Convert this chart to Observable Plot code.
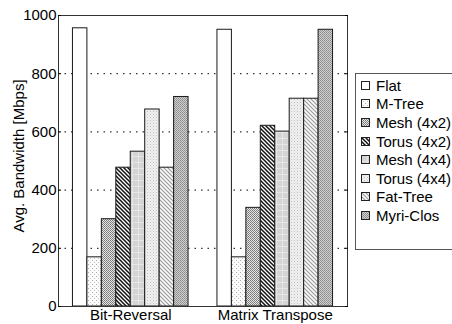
<!DOCTYPE html>
<html>
<head>
<meta charset="utf-8">
<script src="https://cdn.jsdelivr.net/npm/d3@7"></script>
<script src="https://cdn.jsdelivr.net/npm/@observablehq/plot@0.6"></script>
<style>
  html, body { margin: 0; padding: 0; background: #fff; }
  #wrap { position: relative; width: 452px; height: 324px; overflow: hidden; font-family: "Liberation Sans", Arial, sans-serif; }
  #legend { position: absolute; left: 355px; top: 73px; width: 100px; height: 177px; border: 1px solid #555; background: #fff; box-sizing: border-box; padding-top: 2px; }
  .row { display: flex; align-items: center; height: 18.6px; font-size: 15px; color: #000; white-space: nowrap; }
  .row svg { margin-left: 5px; margin-right: 6px; flex: none; }
</style>
</head>
<body>
<svg width="0" height="0" style="position:absolute">
  <defs>
    <pattern id="p0" patternUnits="userSpaceOnUse" width="4" height="4"><rect width="4" height="4" fill="#fff"/></pattern>
    <pattern id="p1" patternUnits="userSpaceOnUse" width="4" height="4"><rect width="4" height="4" fill="#fbfbfb"/><rect x="0" y="0" width="1" height="1" fill="#aaa"/><rect x="2" y="2" width="1" height="1" fill="#c4c4c4"/></pattern>
    <pattern id="p2" patternUnits="userSpaceOnUse" width="2" height="2"><rect width="2" height="2" fill="#e4e4e4"/><rect x="0" y="0" width="1" height="1" fill="#777"/><rect x="1" y="1" width="1" height="1" fill="#888"/></pattern>
    <pattern id="p3" patternUnits="userSpaceOnUse" width="4" height="4"><rect width="4" height="4" fill="#fff"/><path d="M-1,-1L5,5M-1,3L1,5M3,-1L5,1" stroke="#111" stroke-width="1.5"/></pattern>
    <pattern id="p4" patternUnits="userSpaceOnUse" width="6" height="6"><rect width="6" height="6" fill="#d4d4d4"/><path d="M0,0.5H6M0.5,0V6" stroke="#e6e6e6" stroke-width="1"/></pattern>
    <pattern id="p5" patternUnits="userSpaceOnUse" width="3" height="3"><rect width="3" height="3" fill="#f2f2f2"/><rect x="0" y="0" width="1" height="1" fill="#bbb"/><rect x="1.5" y="1.5" width="1" height="1" fill="#d0d0d0"/></pattern>
    <pattern id="p6" patternUnits="userSpaceOnUse" width="4" height="4"><rect width="4" height="4" fill="#fafafa"/><path d="M-1,-1L5,5M-1,3L1,5M3,-1L5,1" stroke="#999" stroke-width="1.1"/></pattern>
    <pattern id="p7" patternUnits="userSpaceOnUse" width="2" height="2"><rect width="2" height="2" fill="#cfcfcf"/><rect x="0" y="0" width="1" height="1" fill="#8c8c8c"/><rect x="1" y="1" width="1" height="1" fill="#999"/></pattern>
  </defs>
</svg>
<div id="wrap">
  <div id="chart"></div>
  <div id="legend"></div>
</div>
<script>
const groups = ["Bit-Reversal", "Matrix Transpose"];
const series = ["Flat", "M-Tree", "Mesh (4x2)", "Torus (4x2)", "Mesh (4x4)", "Torus (4x4)", "Fat-Tree", "Myri-Clos"];
const bitReversal = [956, 169, 300, 477, 532, 677, 477, 720];
const matrixTranspose = [951, 169, 339, 621, 601, 714, 714, 951];
const yTicks = [0, 200, 400, 600, 800, 1000];
const yLabel = "Avg. Bandwidth [Mbps]";

// each group takes one slot per series plus one empty slot on each side
const slotsPerGroup = series.length + 2;
const valuesByGroup = [bitReversal, matrixTranspose];
const rows = [];
groups.forEach((g, gi) => series.forEach((s, si) => rows.push({
  group: g, series: s, si, value: valuesByGroup[gi][si],
  slot: gi * slotsPerGroup + 1 + si
})));
const groupCenters = groups.map((g, gi) => gi * slotsPerGroup + slotsPerGroup / 2);

const chart = Plot.plot({
  width: 452, height: 324,
  marginLeft: 58, marginRight: 105, marginTop: 15, marginBottom: 18,
  style: {fontFamily: "'Liberation Sans', Arial, sans-serif", fontSize: "15px", background: "transparent", color: "#000"},
  x: {domain: [0, groups.length * slotsPerGroup]},
  y: {domain: [0, 1000]},
  marks: [
    Plot.gridY(yTicks.filter(d => d > 0 && d < 1000), {stroke: "#000", strokeOpacity: 1, strokeDasharray: "1.5,5", strokeWidth: 1}),
    Plot.rectY(rows, {
      x1: "slot", x2: d => d.slot + 1, y1: 0, y2: "value",
      fill: d => `url(#p${d.si})`, stroke: "#1a1a1a", strokeWidth: 1
    }),
    Plot.frame({stroke: "#333"}),
    Plot.axisY({anchor: "left", ticks: yTicks, tickSize: 0, tickPadding: 2, tickFormat: d => String(d), label: null, fontSize: 15}),
    Plot.axisY({anchor: "left", ticks: yTicks, tickSize: -3, tickFormat: () => "", label: null}),
    Plot.axisY({anchor: "right", ticks: yTicks, tickSize: -3, tickFormat: () => "", label: null}),
    Plot.axisX({ticks: groupCenters, tickSize: 0, tickPadding: 3, tickFormat: d => groups[groupCenters.indexOf(d)], label: null, fontSize: 15}),
    Plot.text([yLabel], {frameAnchor: "left", textAnchor: "middle", rotate: -90, dx: -39, dy: -5, fontSize: 15})
  ]
});
document.getElementById("chart").appendChild(chart);

const legend = document.getElementById("legend");
series.forEach((s, i) => {
  const row = document.createElement("div");
  row.className = "row";
  row.innerHTML = `<svg width="9" height="9"><rect x="0.5" y="0.5" width="8" height="8" fill="url(#p${i})" stroke="#222"/></svg><span>${s}</span>`;
  legend.appendChild(row);
});
</script>
</body>
</html>
